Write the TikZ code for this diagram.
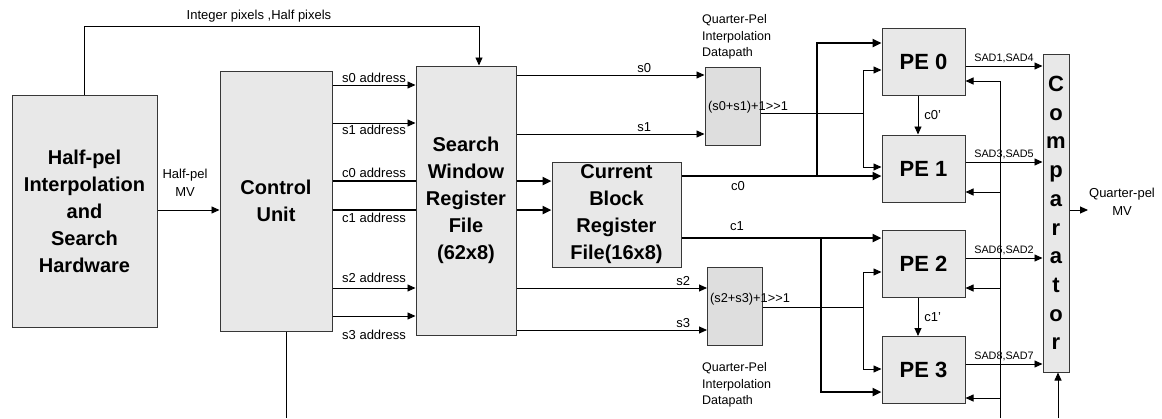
\documentclass[tikz,border=0pt]{standalone}
\usepackage{fontspec}
\setmainfont{Liberation Sans}
\usetikzlibrary{arrows.meta,calc}
\definecolor{BoxFill} {RGB}{232,232,232}
\definecolor{QpelFill}{RGB}{222,222,222}
\definecolor{BoxLine} {RGB}{55,55,55}

\begin{document}
\begin{tikzpicture}[x=1pt,y=-1pt,
  blk/.style={draw=BoxLine,fill=BoxFill,line width=1pt,inner sep=0pt,align=center,
              font=\fontsize{20}{27}\selectfont\bfseries},
  pebox/.style={blk,minimum width=83pt,minimum height=67pt,
              font=\fontsize{22}{26}\selectfont\bfseries},
  qbox/.style={draw=BoxLine,fill=QpelFill,line width=1pt,inner sep=0pt,
              minimum width=55pt,minimum height=78pt},
  wire/.style={line width=0.9pt},
  bus/.style={line width=2.4pt},
  arr/.style={wire,-{Triangle[length=8pt,width=7pt]}},
  busarr/.style={bus,-{Triangle[length=9pt,width=8pt]}},
  lbl/.style={font=\fontsize{13}{18}\selectfont,inner sep=0pt},
  qlbl/.style={font=\fontsize{12.5}{16.5}\selectfont,inner sep=0pt,align=left},
  ftxt/.style={font=\fontsize{12.8}{14}\selectfont,inner sep=0pt,anchor=west},
  sad/.style={font=\fontsize{10.8}{12}\selectfont,inner sep=0pt}]
  \useasboundingbox (0,0) rectangle (1162,418);

  %% Blocks
  \node[blk,minimum width=145pt,minimum height=232pt] (hpi) at (84.5,211)
       {Half-pel\\Interpolation\\and\\Search\\Hardware};
  \node[blk,minimum width=112pt,minimum height=260pt] (ctrl) at (276,201)
       {Control\\Unit};
  \node[blk,minimum width=100pt,minimum height=269pt] (swin) at (466,200.5)
       {Search\\Window\\Register\\File\\(62x8)};
  \node[blk,minimum width=129pt,minimum height=105pt] (cblk) at (616.5,214.5)
       {Current\\Block\\Register\\File(16x8)};
  \node[qbox] (qp0) at (732.5,106) {};
  \node[qbox] (qp1) at (735,306) {};
  \node[pebox] (pe0) at (923.5,62)    {PE 0};
  \node[pebox] (pe1) at (923.5,168.5) {PE 1};
  \node[pebox] (pe2) at (923.5,263.5) {PE 2};
  \node[pebox] (pe3) at (923.5,370)   {PE 3};
  \node[blk,minimum width=26pt,minimum height=318pt,
        font=\fontsize{22}{28.7}\selectfont\bfseries] (comp) at (1056,213)
       {C\\o\\m\\p\\a\\r\\a\\t\\o\\r};

  %% Texts
  \node[ftxt] (qp0txt) at (708,107) {(s0+s1)+1>{}>1};
  \node[ftxt] (qp1txt) at (710,299) {(s2+s3)+1>{}>1};
  \node[qlbl,anchor=west] (qp0lbl) at (702,37)  {Quarter-Pel\\Interpolation\\Datapath};
  \node[qlbl,anchor=west] (qp1lbl) at (702,385) {Quarter-Pel\\Interpolation\\Datapath};
  \node[lbl] (iplbl) at (259,16) {Integer pixels ,Half pixels};
  \node[lbl,align=center] (hmvlbl) at (185,183) {Half-pel\\MV};
  \node[lbl,align=center] (qmvlbl) at (1122,201.5) {Quarter-pel\\MV};

  %% Integer / half pixels to search window
  \coordinate (iptop) at (479,26);
  \draw[arr] (hpi.north) -- (hpi.north |- iptop) -- (iptop) -- (iptop |- swin.north);
  %% Half-pel MV
  \draw[arr] ($(hpi.east)+(0,-1)$) coordinate (hmv) -- (hmv -| ctrl.west);
  %% Control unit bottom
  \coordinate (ctrlbot) at (286,418);
  \draw[wire] (ctrlbot |- ctrl.south) -- (ctrlbot);

  %% Addresses
  \foreach \yy/\txt/\side/\gap/\sty in {85/s0/above/2/arr, 123/s1/below/2/arr,
        181/c0/above/2/bus, 210/c1/below/2/bus, 288/s2/above/5/arr, 316/s3/below/14/arr}{
    \coordinate (lvl) at (0,\yy);
    \draw[\sty] (ctrl.east |- lvl) -- (swin.west |- lvl)
         node[lbl,midway,\side=\gap pt]{\txt\ address};
  }
  %% Search window to current block
  \foreach \yy in {181,210}{
    \coordinate (lvl) at (0,\yy);
    \draw[busarr] (swin.east |- lvl) -- (cblk.west |- lvl);
  }
  %% Search window to quarter-pel datapaths
  \foreach \yy/\txt/\dst/\ps in {75/s0/qp0/0.68, 134/s1/qp0/0.68, 288/s2/qp1/0.875, 330/s3/qp1/0.875}{
    \coordinate (lvl) at (0,\yy);
    \draw[arr] (swin.east |- lvl) -- (\dst.west |- lvl)
         node[lbl,pos=\ps,above=2pt]{\txt};
  }

  %% Current block to PEs
  \coordinate (c0j) at (817,176);
  \coordinate (c0k) at (817,43);
  \draw[busarr] (cblk.east |- c0j) -- (c0j) -- (c0j -| pe1.west);
  \draw[busarr] (c0j) -- (c0k) -- (c0k -| pe0.west);
  \node[lbl] (c0lbl) at (738,186) {c0};
  \coordinate (c1j) at (821,238);
  \coordinate (c1k) at (821,392);
  \draw[busarr] (cblk.east |- c1j) -- (c1j -| pe2.west);
  \draw[busarr] (c1j) -- (c1k) -- (c1k -| pe3.west);
  \node[lbl] (c1lbl) at (737,226) {c1};

  %% Quarter-pel outputs to PEs
  \coordinate (q0j) at (863,113);
  \coordinate (q0a) at (863,70);
  \coordinate (q0b) at (863,167);
  \draw[wire] (qp0.east |- q0j) -- (q0j);
  \draw[arr] (q0j) -- (q0a) -- (q0a -| pe0.west);
  \draw[arr] (q0j) -- (q0b) -- (q0b -| pe1.west);
  \coordinate (q1j) at (863,307);
  \coordinate (q1a) at (863,272);
  \coordinate (q1b) at (863,369);
  \draw[wire] (qp1.east |- q1j) -- (q1j);
  \draw[arr] (q1j) -- (q1a) -- (q1a -| pe2.west);
  \draw[arr] (q1j) -- (q1b) -- (q1b -| pe3.west);

  %% PE chains
  \draw[arr] ($(pe0.south)+(-5.5,0)$) -- ($(pe1.north)+(-5.5,0)$)
       node[lbl,midway,right=6pt]{c0'};
  \draw[arr] ($(pe2.south)+(-5.5,0)$) -- ($(pe3.north)+(-5.5,0)$)
       node[lbl,midway,right=6pt]{c1'};

  %% SADs to comparator
  \foreach \pe/\dy/\txt in {pe0/4/{SAD1,SAD4}, pe1/-6.5/{SAD3,SAD5},
                            pe2/-5.5/{SAD6,SAD2}, pe3/-6/{SAD8,SAD7}}{
    \draw[arr] ($(\pe.east)+(0,\dy)$) coordinate (sd) -- (sd -| comp.west)
         node[sad,midway,above=3pt]{\txt};
  }
  %% Feedback to PEs
  \coordinate (fbtop) at (1000,81);
  \coordinate (fbbot) at (1000,418);
  \draw[wire] (fbbot) -- (fbtop);
  \foreach \pe/\dy in {pe0/19, pe1/23.5, pe2/24.5, pe3/28}{
    \path ($(\pe.east)+(0,\dy)$) coordinate (fbp);
    \draw[arr] (fbp -| fbtop) -- (fbp);
  }

  %% Comparator in / out
  \coordinate (cmpin) at (1058,418);
  \draw[arr] (cmpin) -- (cmpin |- comp.south);
  \coordinate (qmv) at (1088,210);
  \draw[arr] (qmv -| comp.east) -- (qmv);
\end{tikzpicture}
\end{document}
